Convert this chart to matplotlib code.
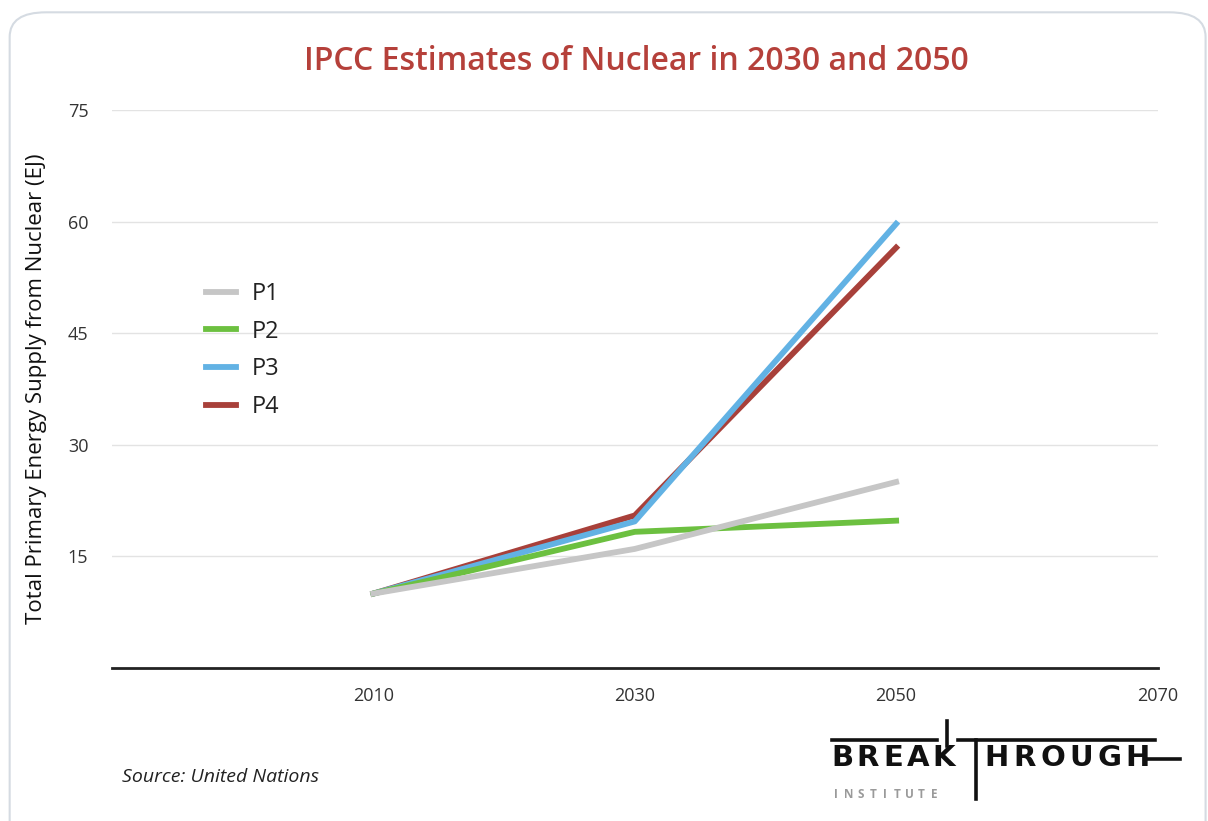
import matplotlib.pyplot as plt
from matplotlib.patches import FancyBboxPatch
from matplotlib.lines import Line2D

plt.rcParams['font.family'] = ['Open Sans', 'DejaVu Sans']

years = [2010, 2030, 2050]
p1 = [10, 16, 25]
p2 = [10, 18.3, 19.8]
p3 = [10, 19.7, 59.7]
p4 = [10, 20.5, 56.5]
yticks = [15, 30, 45, 60, 75]
xticks = [2010, 2030, 2050, 2070]

W, H = 1208, 821
fig = plt.figure(figsize=(W / 100, H / 100), dpi=100)
fig.patch.set_facecolor('white')

# rounded card border
card = FancyBboxPatch((0.008, -0.05), 0.99, 1.035, boxstyle="round,pad=0,rounding_size=0.03",
                      transform=fig.transFigure, facecolor='white', edgecolor='#d5dbe2', lw=1.5,
                      zorder=-10)
fig.add_artist(card)

ax = fig.add_axes([0.0927, 0.1864, 0.8655, 0.6796])
ax.set_facecolor('none')

ax.plot(years, p4, color='#a8403a', lw=4.2, label='P4', zorder=3)
ax.plot(years, p3, color='#62b2e4', lw=4.2, label='P3', zorder=4)
ax.plot(years, p2, color='#6cc040', lw=4.2, label='P2', zorder=5)
ax.plot(years, p1, color='#c6c6c6', lw=4.2, label='P1', zorder=6)

ax.set_xlim(1990, 2070)
ax.set_ylim(0, 75)
ax.set_yticks(yticks)
ax.set_xticks(xticks)
ax.grid(axis='y', color='#e3e3e3', lw=1)
ax.set_axisbelow(True)
for s in ['top', 'right', 'left']:
    ax.spines[s].set_visible(False)
ax.spines['bottom'].set_color('#222222')
ax.spines['bottom'].set_linewidth(2)
ax.tick_params(length=0, labelsize=13, labelcolor='#333333')
ax.tick_params(axis='x', pad=14)
ax.tick_params(axis='y', pad=17)

ax.set_ylabel('Total Primary Energy Supply from Nuclear (EJ)', fontsize=16, color='#111111',
              fontweight='medium')
ax.yaxis.set_label_coords(-0.062, 0.5)

h, l = ax.get_legend_handles_labels()
order = [3, 2, 1, 0]
ax.legend([h[i] for i in order], [l[i] for i in order], loc='upper left',
          bbox_to_anchor=(0.07, 0.73), frameon=False, fontsize=17,
          handlelength=1.27, handletextpad=0.64, labelspacing=0.58, labelcolor='#222222')

fig.text(0.527, 0.925, 'IPCC Estimates of Nuclear in 2030 and 2050', ha='center', va='center',
         fontsize=23, fontweight='semibold', color='#b5403a')
fig.text(0.101, 0.054, 'Source: United Nations', fontsize=14, style='italic', color='#222222',
         ha='left', va='center')


# logo, letters spread out between two pixel x positions
def spaced(s, x0, x1, y, **kw):
    n = len(s)
    step = (x1 - x0) / n
    for i, ch in enumerate(s):
        fig.text((x0 + step * (i + 0.5)) / W, 1 - y / H, ch, ha='center', va='center', **kw)


logo = dict(fontsize=21, fontweight='bold', color='#111111', family=['DejaVu Sans'])
spaced('BREAK', 830, 956, 758, **logo)
spaced('HROUGH', 982, 1152, 758, **logo)
spaced('INSTITUTE', 830, 940, 794, fontsize=8.5, color='#9a9a9a', fontweight='bold')


def pline(xs, ys, lw=2.6):
    fig.add_artist(Line2D([x / W for x in xs], [1 - y / H for y in ys], color='#111111', lw=lw))


pline([832, 937], [740, 740])
pline([947, 947], [721, 746])
pline([958, 1155], [740, 740])
pline([976, 976], [740, 799])
pline([1146, 1180], [759, 759])

fig.savefig('out.png', dpi=100)
